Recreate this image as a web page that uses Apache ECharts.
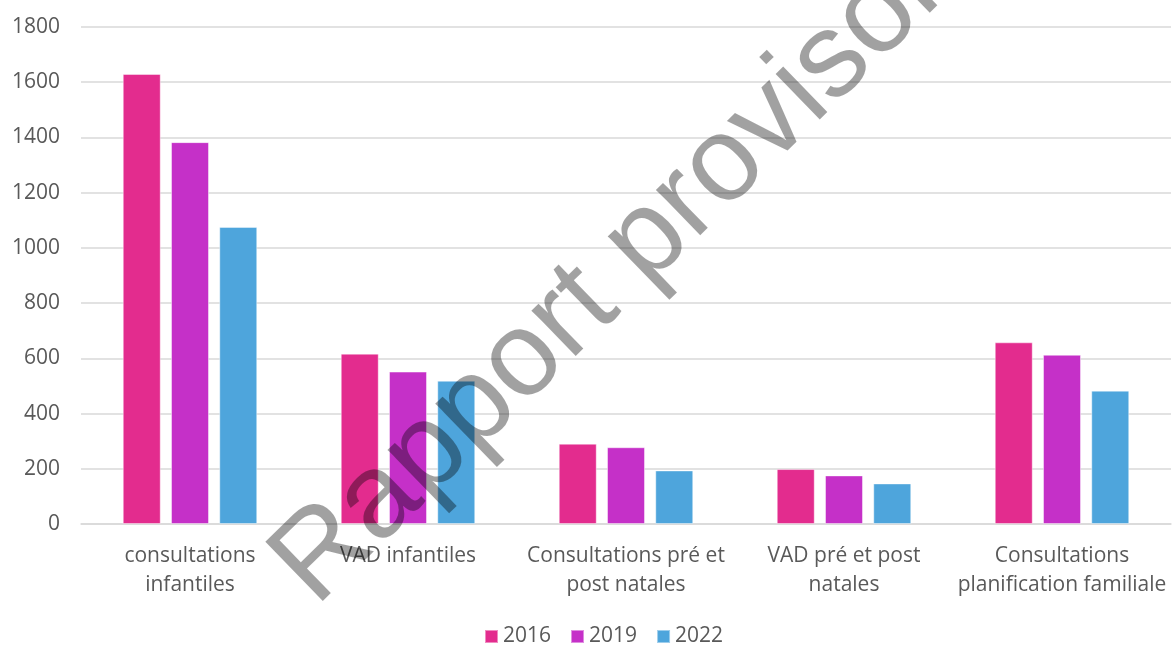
<!DOCTYPE html>
<html>
<head>
<meta charset="utf-8">
<script src="https://cdn.jsdelivr.net/npm/echarts@6/dist/echarts.min.js"></script>
<style>
  html, body { margin: 0; padding: 0; background: #fff; }
  #chart { width: 1173px; height: 645px; }
</style>
</head>
<body>
<div id="chart"></div>
<script>
var categories = [
  'consultations\ninfantiles',
  'VAD infantiles',
  'Consultations pré et\npost natales',
  'VAD pré et post\nnatales',
  'Consultations\nplanification familiale'
];
var years = ['2016', '2019', '2022'];
var values2016 = [1630, 617, 291, 199, 658];
var values2019 = [1383, 552, 278, 176, 613];
var values2022 = [1076, 519, 194, 147, 483];
var colors = ['#E32C8E', '#C530C8', '#4EA5DC'];

var font = '"Open Sans", "Liberation Sans", Arial, sans-serif';
var textGrey = '#595959';

var chart = echarts.init(document.getElementById('chart'), null, { renderer: 'canvas' });

function barSeries(name, data, color) {
  return {
    name: name, type: 'bar', data: data,
    barWidth: 38, barGap: '27%',
    itemStyle: { color: color, borderColor: 'rgba(255,255,255,0.45)', borderWidth: 1 }
  };
}

chart.setOption({
  animation: false,
  color: colors,
  grid: { left: 81, right: 2, top: 27, bottom: 121 },
  legend: {
    data: years, top: 621, left: 479,
    itemWidth: 13, itemHeight: 13, itemGap: 19, icon: 'rect',
    textStyle: { color: textGrey, fontSize: 21, fontFamily: font }
  },
  xAxis: {
    type: 'category', data: categories,
    axisLine: { lineStyle: { color: '#D9D9D9', width: 1.5 } },
    axisTick: { show: false },
    axisLabel: { color: textGrey, fontSize: 21, fontFamily: font, lineHeight: 29, margin: 18, interval: 0 }
  },
  yAxis: {
    type: 'value', min: 0, max: 1800, interval: 200,
    axisLine: { show: false }, axisTick: { show: false },
    axisLabel: { color: textGrey, fontSize: 21, fontFamily: font, margin: 21,
      formatter: function(v) { return String(v); } },
    splitLine: { lineStyle: { color: '#D9D9D9', width: 1.5 } }
  },
  series: [
    barSeries(years[0], values2016, colors[0]),
    barSeries(years[1], values2019, colors[1]),
    barSeries(years[2], values2022, colors[2])
  ],
  graphic: [{
    type: 'text', z: 100,
    x: 251, y: 541, rotation: Math.PI / 4 * 0.98,
    style: {
      text: 'Rapport provisoire',
      fontSize: 120, fontFamily: '"Liberation Sans", Arial, sans-serif',
      fill: 'rgba(0,0,0,0.37)',
      textAlign: 'left'
    }
  }]
});
</script>
</body>
</html>
